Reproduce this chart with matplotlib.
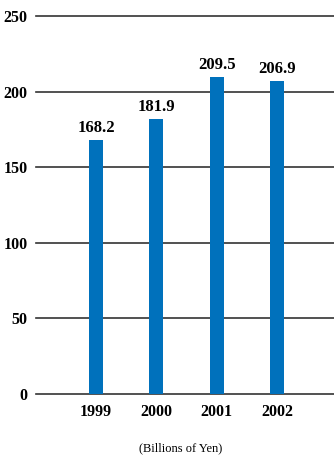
import matplotlib.pyplot as plt

years = ['1999', '2000', '2001', '2002']
values = [168.2, 181.9, 209.5, 206.9]
y_ticks = [0, 50, 100, 150, 200, 250]

W, H = 334, 457
fig = plt.figure(figsize=(W / 100, H / 100), dpi=100)
# axes from x=36..334, y(250)=16, y(0)=394
ax = fig.add_axes([36 / W, 1 - 394 / H, (W - 36) / W, (394 - 16) / H])

pos = list(range(len(years)))
ax.bar(pos, values, width=0.23, color='#0071bc', zorder=3)
for p, v in zip(pos, values):
    ax.text(p, v + 2.5, f'{v:.1f}', ha='center', va='bottom',
            family='Liberation Serif', fontweight='bold', fontsize=12)

for t in y_ticks:
    ax.axhline(t, color='#333333', lw=1.2, zorder=2, clip_on=False)

ax.set_ylim(0, 250)
ax.set_xlim(-0.995, 3.945)
ax.set_yticks(y_ticks)
ax.set_yticklabels([str(t) for t in y_ticks], family='Liberation Serif',
                   fontweight='bold', fontsize=11.5)
ax.set_xticks(pos)
ax.set_xticklabels(years, family='Liberation Serif', fontweight='bold',
                   fontsize=11.5)
ax.tick_params(length=0, axis='y', pad=6)
ax.tick_params(length=0, axis='x', pad=7)
for s in ax.spines.values():
    s.set_visible(False)

fig.text(181 / W, 1 - 448 / H, '(Billions of Yen)', ha='center', va='center',
         family='Liberation Serif', fontsize=9)

fig.savefig('out.png', dpi=100)
